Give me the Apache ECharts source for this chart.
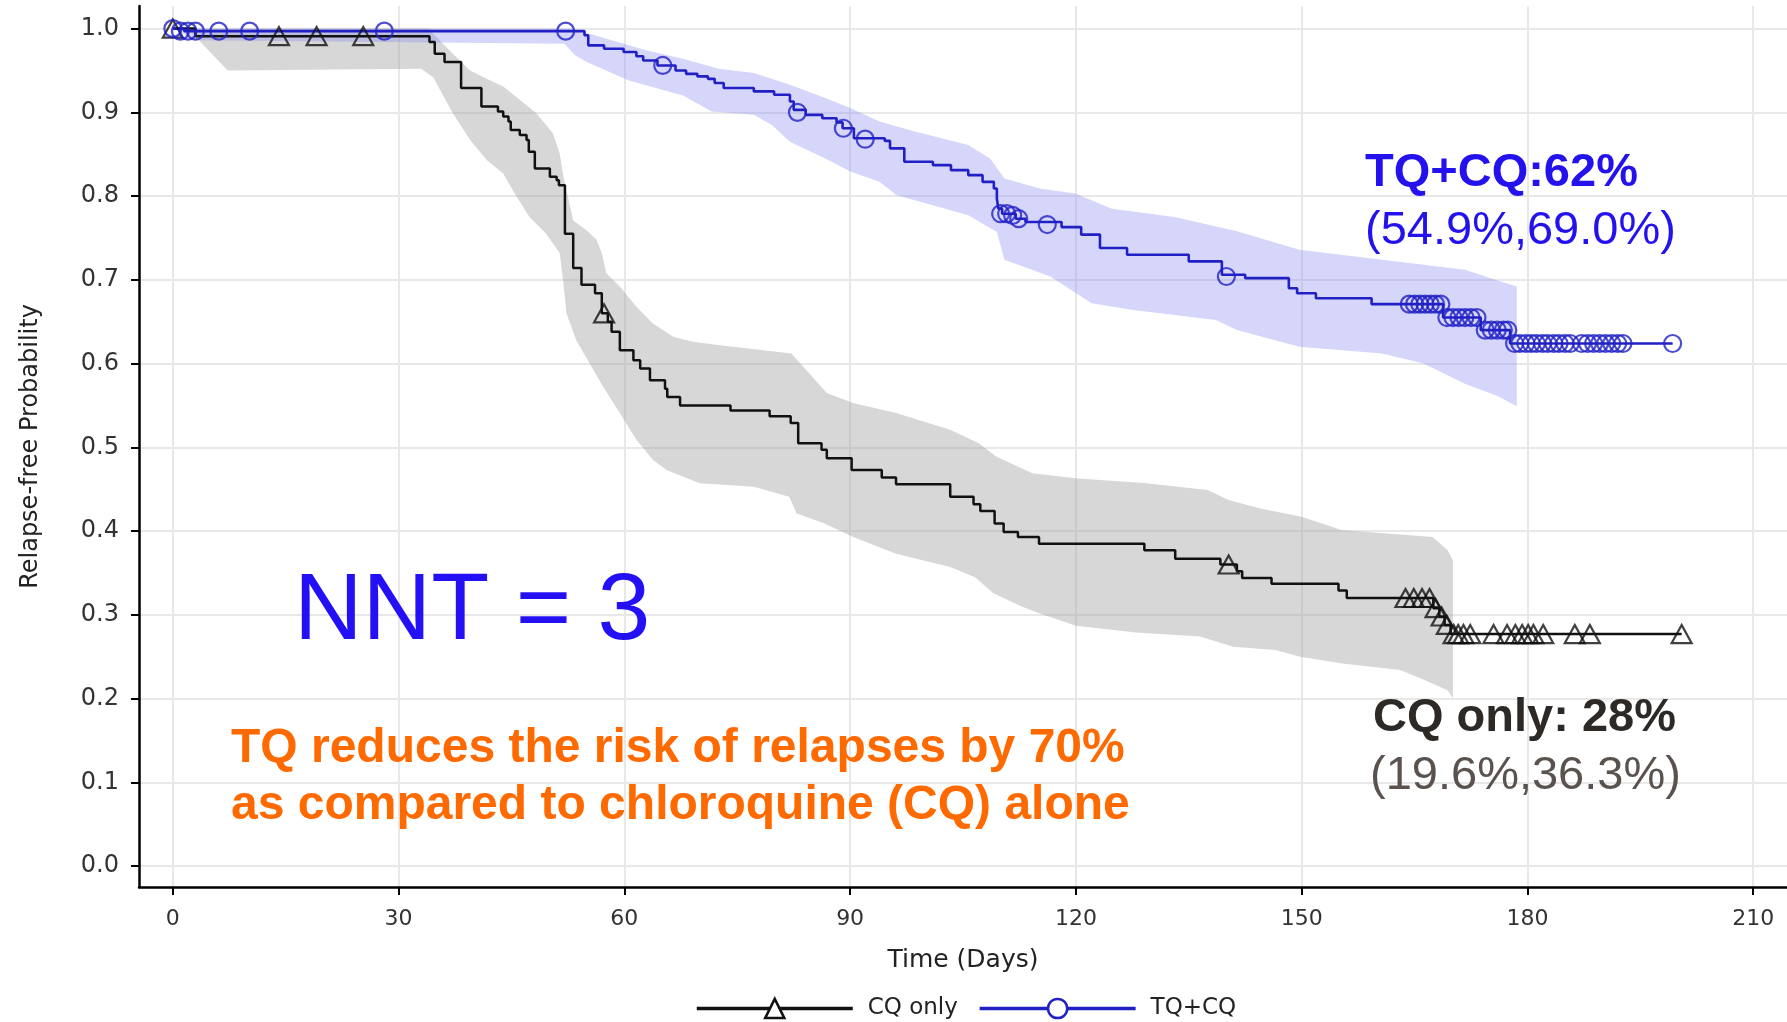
<!DOCTYPE html>
<html>
<head>
<meta charset="utf-8">
<title>Relapse-free probability</title>
<script src="https://cdn.jsdelivr.net/npm/echarts@6.0.0/dist/echarts.min.js"></script>
<style>
  html, body { margin: 0; padding: 0; background: #fff; }
  #chart { width: 1787px; height: 1022px; }
</style>
</head>
<body>
<div id="chart"></div>
<script>
// axis ticks
const xTicks = [0, 30, 60, 90, 120, 150, 180, 210]
const yTicks = [0, 0.1, 0.2, 0.3, 0.4, 0.5, 0.6, 0.7, 0.8, 0.9, 1.0]

// CQ only: Kaplan-Meier steps [day, probability after the drop]
const cqSteps = [
  [0, 1.0], [3, 0.991], [34.1, 0.984], [34.8, 0.970], [36.1, 0.960], [38.3, 0.929],
  [41.0, 0.907], [43.2, 0.901], [43.9, 0.895], [44.6, 0.889], [44.9, 0.879], [46.1, 0.873],
  [47.0, 0.867], [47.3, 0.853], [48.1, 0.833], [50.1, 0.823], [51.0, 0.819], [51.3, 0.813],
  [52.1, 0.755], [53.2, 0.714], [54.3, 0.694], [56.1, 0.684], [57.0, 0.660], [57.8, 0.650],
  [58.3, 0.638], [59.4, 0.616], [61.2, 0.604], [62.1, 0.594], [63.4, 0.580], [65.4, 0.570],
  [65.7, 0.560], [67.4, 0.550], [74.1, 0.544], [79.3, 0.537], [82.1, 0.529], [83.1, 0.505],
  [86.2, 0.497], [86.9, 0.487], [90.2, 0.473], [94.2, 0.464], [96.1, 0.456], [103.3, 0.441],
  [106.4, 0.432], [107.3, 0.424], [109.2, 0.409], [110.4, 0.399], [112.3, 0.393], [115.1, 0.385],
  [129.1, 0.377], [133.2, 0.367], [139.2, 0.360], [141.4, 0.352], [142.1, 0.344], [146.0, 0.337],
  [154.9, 0.329], [156.0, 0.320], [167.5, 0.308], [168.3, 0.298], [169.0, 0.288], [169.8, 0.277],
  [200.5, 0.277]
]
// CQ only: censored observations
const cqCensor = [
  [0, 1.0], [14.1, 0.991], [19.1, 0.991], [25.3, 0.991], [57.3, 0.660], [140.3, 0.360],
  [163.8, 0.320], [164.9, 0.320], [166.0, 0.320], [167.0, 0.320], [167.8, 0.308], [168.6, 0.298],
  [169.3, 0.288], [170.2, 0.277], [170.8, 0.277], [171.5, 0.277], [172.4, 0.277], [175.5, 0.277],
  [177.3, 0.277], [178.4, 0.277], [179.3, 0.277], [180.1, 0.277], [180.8, 0.277], [182.1, 0.277],
  [186.3, 0.277], [188.3, 0.277], [200.5, 0.277]
]
// CQ only: confidence band
const cqUpper = [
  [0, 1.0], [34.0, 1.0], [34.6, 0.994], [37.2, 0.970], [39.5, 0.950], [41.7, 0.940], [43.9, 0.931],
  [46.1, 0.915], [48.3, 0.899], [50.5, 0.875], [51.4, 0.851], [51.9, 0.823], [53.2, 0.771],
  [55.0, 0.759], [56.3, 0.748], [57.0, 0.732], [57.6, 0.708], [59.4, 0.692], [61.6, 0.668],
  [63.8, 0.648], [66.5, 0.632], [69.1, 0.626], [72.7, 0.622], [82.2, 0.612], [86.9, 0.565],
  [90.4, 0.553], [96.1, 0.541], [103.3, 0.521], [107.1, 0.505], [109.4, 0.489], [114.2, 0.469],
  [119.9, 0.463], [129.4, 0.457], [137.5, 0.449], [140.3, 0.437], [144.5, 0.427], [150.0, 0.417],
  [155.4, 0.401], [161.4, 0.397], [167.4, 0.393], [169.4, 0.377], [170.1, 0.365]
]
const cqLower = [
  [0, 1.0], [2.5, 0.995], [7.3, 0.950], [33.0, 0.952], [34.6, 0.942], [37.2, 0.899], [39.5, 0.867],
  [41.7, 0.843], [43.9, 0.827], [45.7, 0.799], [47.4, 0.775], [49.6, 0.755], [51.4, 0.732],
  [51.9, 0.696], [52.3, 0.660], [53.6, 0.628], [55.4, 0.600], [57.2, 0.572], [59.4, 0.541],
  [61.6, 0.509], [63.8, 0.485], [65.6, 0.473], [70.0, 0.457], [77.2, 0.453], [81.9, 0.441],
  [82.9, 0.421], [86.6, 0.409], [90.4, 0.393], [96.1, 0.373], [103.3, 0.357], [106.6, 0.345],
  [109.0, 0.326], [112.8, 0.310], [115.1, 0.302], [120.0, 0.287], [128.0, 0.279], [136.5, 0.274],
  [140.9, 0.262], [146.5, 0.258], [149.8, 0.250], [155.4, 0.242], [163.1, 0.234], [166.4, 0.222],
  [169.4, 0.210], [170.1, 0.200]
]

// TQ+CQ: Kaplan-Meier steps
const tqSteps = [
  [0, 1.0], [1.5, 0.997], [54.7, 0.992], [55.2, 0.980], [57.3, 0.976], [59.9, 0.972], [61.6, 0.967],
  [62.5, 0.962], [64.4, 0.956], [66.8, 0.950], [68.2, 0.946], [69.7, 0.943], [71.1, 0.940],
  [72.0, 0.935], [73.2, 0.929], [77.2, 0.925], [79.9, 0.921], [82.0, 0.913], [82.5, 0.903],
  [84.1, 0.897], [86.3, 0.893], [88.2, 0.888], [89.0, 0.881], [90.5, 0.869], [94.6, 0.866],
  [95.3, 0.857], [97.2, 0.841], [101.0, 0.837], [103.4, 0.831], [105.7, 0.825], [107.6, 0.817],
  [109.1, 0.809], [109.5, 0.797], [109.7, 0.785], [110.2, 0.779], [112.0, 0.773], [113.3, 0.769],
  [118.1, 0.763], [120.7, 0.754], [123.2, 0.738], [126.8, 0.730], [135.0, 0.722], [139.4, 0.706],
  [142.5, 0.702], [148.3, 0.690], [149.4, 0.684], [151.9, 0.678], [159.3, 0.671], [168.8, 0.655],
  [173.8, 0.640], [177.7, 0.624], [199.3, 0.624]
]
// TQ+CQ: censored observations
const tqCensor = [
  [0, 1.0], [1.0, 0.997], [2.0, 0.997], [3.0, 0.997], [6.1, 0.997], [10.2, 0.997], [28.1, 0.997],
  [52.2, 0.997], [65.1, 0.956], [83.0, 0.900], [89.1, 0.881], [92.0, 0.868], [110.0, 0.779],
  [110.8, 0.779], [111.6, 0.777], [112.4, 0.773], [116.2, 0.766], [140.0, 0.704],
  [164.3, 0.671], [165.0, 0.671], [165.7, 0.671], [166.4, 0.671], [167.1, 0.671], [167.8, 0.671],
  [168.5, 0.671], [169.3, 0.655], [170.1, 0.655], [170.9, 0.655], [171.7, 0.655], [172.5, 0.655],
  [173.3, 0.655], [174.4, 0.640], [175.2, 0.640], [176.0, 0.640], [176.8, 0.640], [177.4, 0.640],
  [178.3, 0.624], [179.0, 0.624], [179.8, 0.624], [180.5, 0.624], [181.2, 0.624], [182.0, 0.624],
  [182.7, 0.624], [183.5, 0.624], [184.2, 0.624], [185.0, 0.624], [185.7, 0.624], [187.2, 0.624],
  [188.0, 0.624], [188.8, 0.624], [189.6, 0.624], [190.4, 0.624], [191.2, 0.624], [192.0, 0.624],
  [192.7, 0.624], [199.3, 0.624]
]
// TQ+CQ: confidence band
const tqUpper = [
  [0, 1.0], [53.0, 1.0], [58.3, 0.986], [63.0, 0.974], [67.8, 0.964], [72.5, 0.952], [77.2, 0.947],
  [82.0, 0.933], [86.7, 0.917], [90.1, 0.905], [93.9, 0.889], [98.6, 0.877], [105.7, 0.861],
  [108.6, 0.845], [110.5, 0.821], [115.2, 0.809], [119.9, 0.803], [124.8, 0.785], [133.1, 0.775],
  [141.4, 0.758], [149.7, 0.736], [160.7, 0.724], [171.7, 0.712], [177.2, 0.696], [178.6, 0.692]
]
const tqLower = [
  [0, 1.0], [3.0, 0.986], [52.0, 0.982], [53.5, 0.968], [55.0, 0.960], [60.6, 0.938], [67.8, 0.920],
  [71.6, 0.901], [77.2, 0.897], [79.6, 0.885], [82.0, 0.865], [86.7, 0.845], [90.1, 0.829],
  [93.9, 0.817], [96.2, 0.801], [101.0, 0.789], [105.7, 0.777], [109.5, 0.757], [110.5, 0.724],
  [116.6, 0.704], [122.1, 0.672], [127.6, 0.664], [138.6, 0.652], [141.4, 0.640], [149.7, 0.620],
  [160.7, 0.612], [166.2, 0.600], [171.7, 0.576], [176.1, 0.561], [178.6, 0.549]
]

const black = '#111111'
const blue = '#2020c4'
const labelFont = 'DejaVu Sans'

// 置信区间：上界正序 + 下界倒序拼成多边形
function bandSeries (upper, lower, color) {
  return {
    type: 'custom',
    silent: true,
    z: 1,
    data: [[0, 1]],
    renderItem: function (params, api) {
      let pts = upper.map(function (p) { return api.coord(p) })
        .concat(lower.slice().reverse().map(function (p) { return api.coord(p) }))
      return { type: 'polygon', shape: { points: pts }, style: { fill: color } }
    }
  }
}

const graph = echarts.init(document.getElementById('chart'))
const option = {
  animation: false,
  backgroundColor: '#ffffff',
  grid: { left: 139, right: 0, top: 6, bottom: 135 },
  xAxis: {
    type: 'value',
    min: -4.5,
    max: 214.5,
    name: 'Time (Days)',
    nameLocation: 'middle',
    nameGap: 61,
    nameTextStyle: { fontFamily: labelFont, fontSize: 25, color: '#222' },
    axisLine: { onZero: false, lineStyle: { color: '#000', width: 2.5 } },
    axisTick: { customValues: xTicks, length: 8, lineStyle: { color: '#000', width: 2 } },
    axisLabel: { customValues: xTicks, margin: 21, fontFamily: labelFont, fontSize: 22, color: '#333' },
    splitLine: { show: true, lineStyle: { color: '#e8e8e8', width: 2 } }
  },
  yAxis: {
    type: 'value',
    min: -0.025,
    max: 1.027,
    name: 'Relapse-free Probability',
    nameLocation: 'middle',
    nameGap: 96,
    nameTextStyle: { fontFamily: labelFont, fontSize: 24, color: '#222' },
    axisLine: { onZero: false, lineStyle: { color: '#000', width: 2.5 } },
    axisTick: { customValues: yTicks, length: 8, lineStyle: { color: '#000', width: 2 } },
    axisLabel: {
      customValues: yTicks,
      margin: 20,
      fontFamily: labelFont,
      fontSize: 24,
      color: '#333',
      formatter: function (v) { return v.toFixed(1) }
    },
    splitLine: { show: true, lineStyle: { color: '#e8e8e8', width: 2 } }
  },
  legend: {
    left: 690,
    top: 992,
    itemWidth: 156,
    itemHeight: 24,
    itemGap: 20,
    textStyle: { fontFamily: labelFont, fontSize: 23, color: '#222', padding: [0, 0, 0, 10] },
    data: [
      { name: 'CQ only', itemStyle: { color: '#fff', borderColor: black, borderWidth: 2.5 }, lineStyle: { color: black, width: 3.5 } },
      { name: 'TQ+CQ', itemStyle: { color: '#fff', borderColor: blue, borderWidth: 2.5 }, lineStyle: { color: blue, width: 3.5 } }
    ]
  },
  series: [
    bandSeries(cqUpper, cqLower, 'rgba(160,160,160,0.42)'),
    bandSeries(tqUpper, tqLower, 'rgba(140,140,240,0.36)'),
    {
      name: 'CQ only',
      type: 'line',
      step: 'end',
      data: cqSteps,
      symbol: 'triangle',
      showSymbol: false,
      color: black,
      lineStyle: { color: black, width: 2.5 },
      z: 3
    },
    {
      name: 'TQ+CQ',
      type: 'line',
      step: 'end',
      data: tqSteps,
      symbol: 'circle',
      showSymbol: false,
      color: blue,
      lineStyle: { color: blue, width: 2.6 },
      z: 3
    },
    {
      name: 'CQ censored',
      type: 'scatter',
      data: cqCensor,
      symbol: 'triangle',
      symbolSize: [20, 18],
      itemStyle: { color: 'rgba(0,0,0,0)', borderColor: black, borderWidth: 2.2 },
      z: 4
    },
    {
      name: 'TQ+CQ censored',
      type: 'scatter',
      data: tqCensor,
      symbol: 'circle',
      symbolSize: 17,
      itemStyle: { color: 'rgba(0,0,0,0)', borderColor: blue, borderWidth: 2.2 },
      z: 4
    }
  ],
  graphic: [
    { type: 'text', x: 1365, y: 173, z: 10, style: { text: 'TQ+CQ:62%', font: 'bold 47px "Liberation Sans"', fill: '#2412ee', verticalAlign: 'middle' } },
    { type: 'text', x: 1365, y: 231, z: 10, style: { text: '(54.9%,69.0%)', font: '47px "Liberation Sans"', fill: '#2412ee', verticalAlign: 'middle' } },
    { type: 'text', x: 294, y: 613, z: 10, style: { text: 'NNT = 3', font: '95px "Liberation Sans"', fill: '#2410f5', verticalAlign: 'middle' } },
    { type: 'text', x: 231, y: 749, z: 10, style: { text: 'TQ reduces the risk of relapses by 70%', font: 'bold 48px "Liberation Sans"', fill: '#ff6a00', verticalAlign: 'middle' } },
    { type: 'text', x: 231, y: 806, z: 10, style: { text: 'as compared to chloroquine (CQ) alone', font: 'bold 48px "Liberation Sans"', fill: '#ff6a00', verticalAlign: 'middle' } },
    { type: 'text', x: 1373, y: 718, z: 10, style: { text: 'CQ only: 28%', font: 'bold 47px "Liberation Sans"', fill: '#2d2926', verticalAlign: 'middle' } },
    { type: 'text', x: 1370, y: 776, z: 10, style: { text: '(19.6%,36.3%)', font: '47px "Liberation Sans"', fill: '#5a524e', verticalAlign: 'middle' } }
  ]
}
graph.setOption(option)
window.addEventListener('resize', () => {
  graph.resize()
})
</script>
</body>
</html>
